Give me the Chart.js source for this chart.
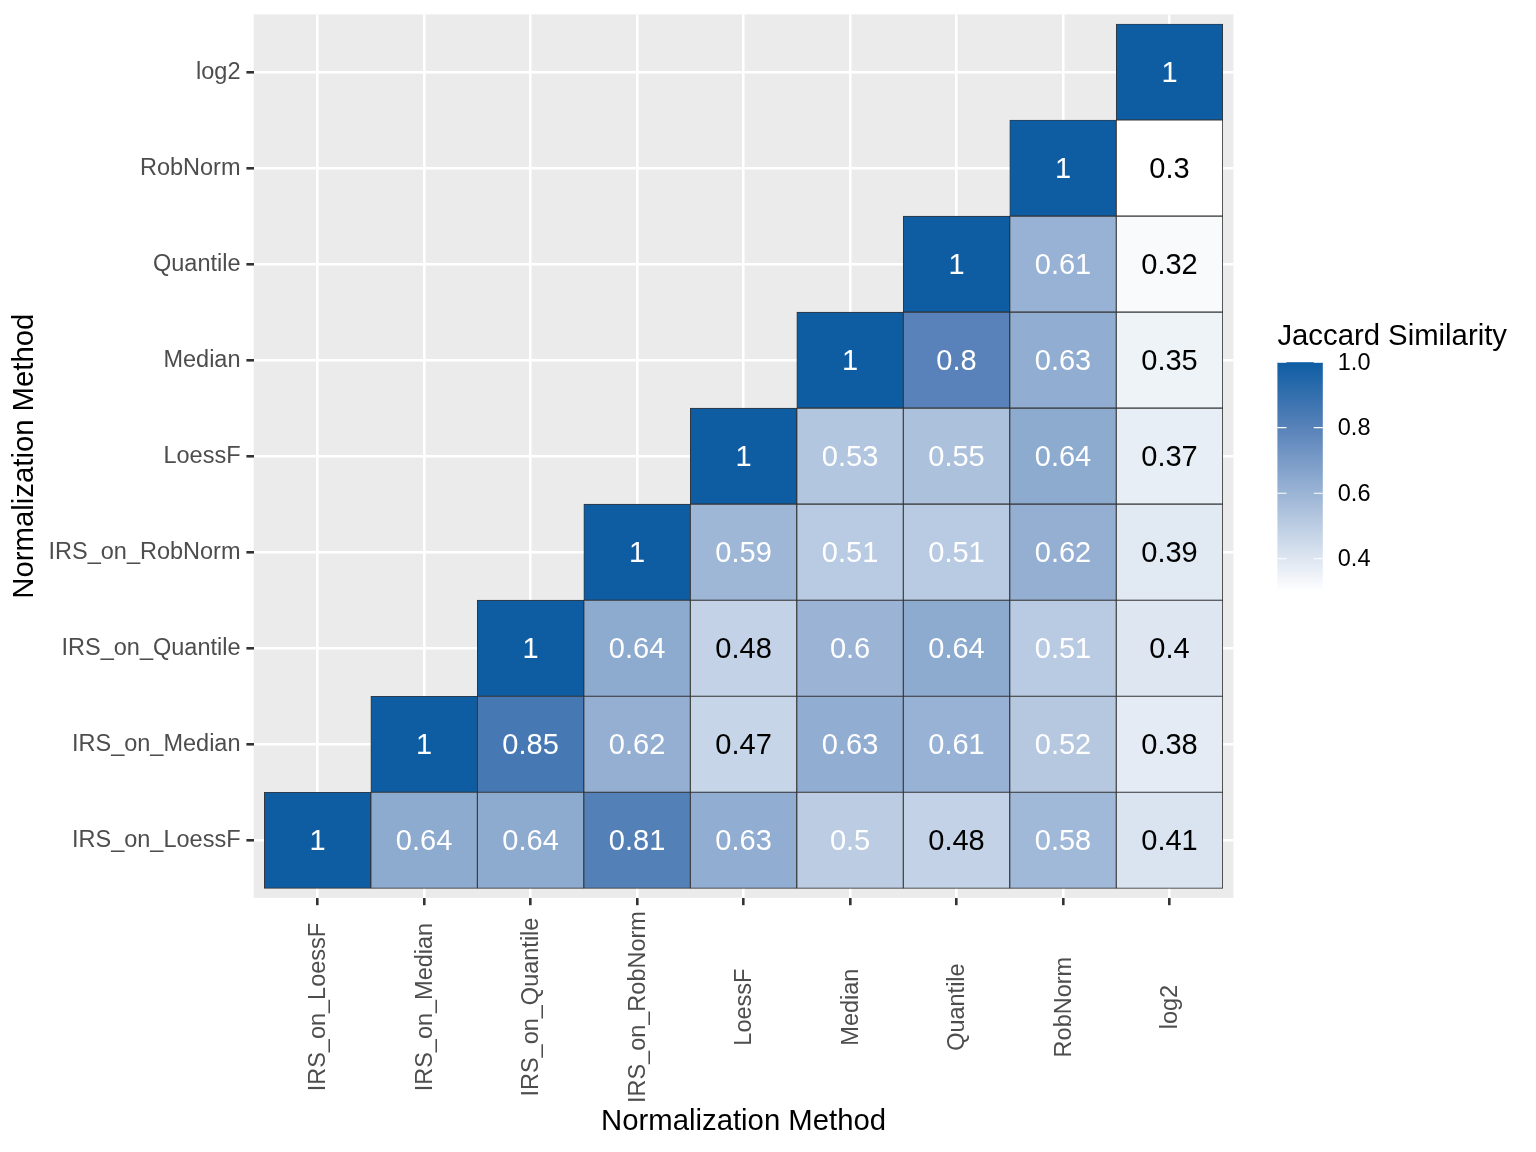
<!DOCTYPE html>
<html>
<head>
<meta charset="utf-8">
<script src="https://cdn.jsdelivr.net/npm/chart.js@4/dist/chart.umd.min.js"></script>
<style>
  body { margin: 0; background: #fff; }
  #wrap { width: 1536px; height: 1152px; }
</style>
</head>
<body>
<div id="wrap"><canvas id="heat" width="1536" height="1152"></canvas></div>
<script>
// metodi (stesso ordine su asse x e asse y, dal basso verso l'alto)
const methods = ['IRS_on_LoessF', 'IRS_on_Median', 'IRS_on_Quantile', 'IRS_on_RobNorm',
                 'LoessF', 'Median', 'Quantile', 'RobNorm', 'log2'];

// valori Jaccard: riga j parte dalla colonna j
const rowIRSLoessF   = [1, 0.64, 0.64, 0.81, 0.63, 0.5, 0.48, 0.58, 0.41];
const rowIRSMedian   = [1, 0.85, 0.62, 0.47, 0.63, 0.61, 0.52, 0.38];
const rowIRSQuantile = [1, 0.64, 0.48, 0.6, 0.64, 0.51, 0.4];
const rowIRSRobNorm  = [1, 0.59, 0.51, 0.51, 0.62, 0.39];
const rowLoessF      = [1, 0.53, 0.55, 0.64, 0.37];
const rowMedian      = [1, 0.8, 0.63, 0.35];
const rowQuantile    = [1, 0.61, 0.32];
const rowRobNorm     = [1, 0.3];
const rowLog2        = [1];
const rows = [rowIRSLoessF, rowIRSMedian, rowIRSQuantile, rowIRSRobNorm,
              rowLoessF, rowMedian, rowQuantile, rowRobNorm, rowLog2];

const legendTicks = [0.4, 0.6, 0.8, 1.0];
// scala colori: bianco a 0.3 -> blu a 1.0
const scaleStops  = [0.3, 0.8, 1.0];
const scaleColors = ['#FFFFFF', '#5882B9', '#0E5DA3'];

const FONT = "'Liberation Sans', Arial, Helvetica, sans-serif";

function hexToRgb(h) {
  return [1, 3, 5].map(i => parseInt(h.substr(i, 2), 16));
}
const stopRgb = scaleColors.map(hexToRgb);
function fillFor(v) {
  let k = 0;
  while (k < scaleStops.length - 2 && v > scaleStops[k + 1]) k++;
  const t = Math.max(0, Math.min(1, (v - scaleStops[k]) / (scaleStops[k + 1] - scaleStops[k])));
  const c = stopRgb[k].map((l, i) => Math.round(l + (stopRgb[k + 1][i] - l) * t));
  return `rgb(${c[0]},${c[1]},${c[2]})`;
}
const vMin = scaleStops[0], vMax = scaleStops[scaleStops.length - 1];

// un dataset per riga, barre flottanti da j-0.5 a j+0.5
const datasets = rows.map((vals, j) => ({
  data: vals.map((v, n) => ({ x: j + n, y: [j - 0.5, j + 0.5] })),
  values: vals,
  backgroundColor: vals.map(fillFor),
  borderColor: '#333333',
  borderWidth: 0.9,
  borderSkipped: false,
  grouped: false,
  barPercentage: 1,
  categoryPercentage: 1
}));

const tickLen = 7.3, tickPad = 5.9;

// sfondo pannello grigio
const panelBg = {
  id: 'panelBg',
  beforeDraw(chart) {
    const { ctx, chartArea: a } = chart;
    ctx.save();
    ctx.fillStyle = '#FFFFFF';
    ctx.fillRect(0, 0, chart.width, chart.height);
    ctx.fillStyle = '#EBEBEB';
    ctx.fillRect(a.left, a.top, a.right - a.left, a.bottom - a.top);
    ctx.restore();
  }
};

// numeri dentro le celle + etichette x ruotate centrate
const cellText = {
  id: 'cellText',
  afterDatasetsDraw(chart) {
    const { ctx } = chart;
    ctx.save();
    ctx.font = `29px ${FONT}`;
    ctx.textAlign = 'center';
    ctx.textBaseline = 'middle';
    chart.data.datasets.forEach((ds, j) => {
      chart.getDatasetMeta(j).data.forEach((bar, n) => {
        const p = bar.getCenterPoint();
        const v = ds.values[n];
        ctx.fillStyle = v >= 0.5 ? '#FFFFFF' : '#000000';
        ctx.fillText(String(v), p.x, p.y + 1.5);
      });
    });

    const xs = chart.scales.x;
    ctx.font = `23.5px ${FONT}`;
    ctx.fillStyle = '#4D4D4D';
    const widest = Math.max(...methods.map(m => ctx.measureText(m).width));
    const cy = chart.chartArea.bottom + tickLen + tickPad + widest / 2;
    methods.forEach((m, i) => {
      ctx.save();
      ctx.translate(xs.getPixelForValue(i) + 1, cy);
      ctx.rotate(-Math.PI / 2);
      ctx.fillText(m, 0, 0);
      ctx.restore();
    });
    ctx.restore();
  }
};

// legenda a barra di colore
const colorBar = {
  id: 'colorBar',
  afterDraw(chart) {
    const { ctx, chartArea: a } = chart;
    const lx = a.right + 44, w = 45.4;
    const top = 362.2, bottom = 591.5;
    const yOf = v => bottom - (v - vMin) / (vMax - vMin) * (bottom - top);
    ctx.save();
    const grad = ctx.createLinearGradient(0, bottom, 0, top);
    scaleStops.forEach((s, k) => grad.addColorStop((s - vMin) / (vMax - vMin), scaleColors[k]));
    ctx.fillStyle = grad;
    ctx.fillRect(lx, top, w, bottom - top);

    ctx.strokeStyle = '#FFFFFF';
    ctx.lineWidth = 1.2;
    ctx.font = `23.5px ${FONT}`;
    ctx.fillStyle = '#000000';
    ctx.textAlign = 'left';
    ctx.textBaseline = 'middle';
    legendTicks.forEach(t => {
      const y = yOf(t);
      ctx.beginPath();
      ctx.moveTo(lx, y); ctx.lineTo(lx + w / 5, y);
      ctx.moveTo(lx + w - w / 5, y); ctx.lineTo(lx + w, y);
      ctx.stroke();
      ctx.fillText(t.toFixed(1), lx + w + 15, y + 1);
    });

    ctx.font = `29.3px ${FONT}`;
    ctx.textBaseline = 'alphabetic';
    ctx.fillText('Jaccard Similarity', lx, 345);
    ctx.restore();
  }
};

const indexTicks = s => { s.ticks = methods.map((_, i) => ({ value: i })); };

new Chart(document.getElementById('heat'), {
  type: 'bar',
  data: { datasets },
  options: {
    responsive: false,
    animation: false,
    events: [],
    layout: { padding: { top: 14.4, right: 302.6, bottom: 0, left: 0 } },
    plugins: { legend: { display: false }, tooltip: { enabled: false } },
    scales: {
      x: {
        type: 'linear',
        offset: false,
        min: -0.6,
        max: 8.6,
        afterBuildTicks: indexTicks,
        afterFit: s => { s.height = 254.1; s.paddingLeft = 0; s.paddingRight = 0; },
        ticks: { display: false },
        grid: { offset: false, color: '#FFFFFF', lineWidth: 2.6, tickColor: '#333333', tickWidth: 2.6, tickLength: tickLen },
        border: { display: false },
        title: {
          display: true, text: 'Normalization Method', color: '#000000',
          font: { family: FONT, size: 29.3, lineHeight: 1.2 },
          padding: { top: 0, bottom: 12.4 }
        }
      },
      y: {
        type: 'linear',
        min: -0.6,
        max: 8.6,
        afterBuildTicks: indexTicks,
        afterFit: s => { s.width = 253.7; s.paddingTop = 0; s.paddingBottom = 0; },
        ticks: {
          padding: tickPad,
          color: '#4D4D4D',
          font: { family: FONT, size: 23.5 },
          callback: v => methods[v]
        },
        grid: { color: '#FFFFFF', lineWidth: 2.6, tickColor: '#333333', tickWidth: 2.6, tickLength: tickLen },
        border: { display: false },
        title: {
          display: true, text: 'Normalization Method', color: '#000000',
          font: { family: FONT, size: 29.3, lineHeight: 1.2 },
          padding: { top: 7.4, bottom: 0 }
        }
      }
    }
  },
  plugins: [panelBg, cellText, colorBar]
});
</script>
</body>
</html>
